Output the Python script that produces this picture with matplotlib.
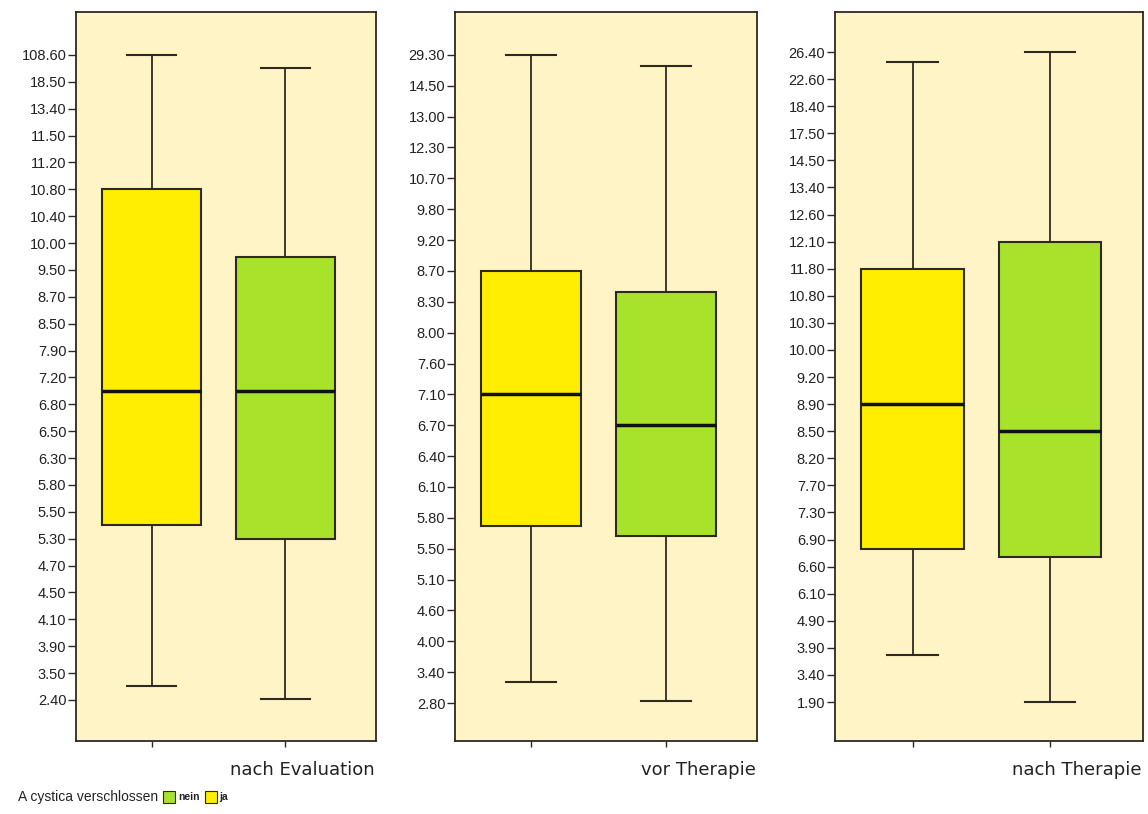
import numpy as np
import matplotlib
matplotlib.use("Agg")
import matplotlib.pyplot as plt
from matplotlib.patches import Rectangle

# ordinal axis labels (bottom to top), one list per panel
ticks_eval = [2.40, 3.50, 3.90, 4.10, 4.50, 4.70, 5.30, 5.50, 5.80, 6.30, 6.50, 6.80, 7.20,
              7.90, 8.50, 8.70, 9.50, 10.00, 10.40, 10.80, 11.20, 11.50, 13.40, 18.50, 108.60]
ticks_vor = [2.80, 3.40, 4.00, 4.60, 5.10, 5.50, 5.80, 6.10, 6.40, 6.70, 7.10, 7.60, 8.00,
             8.30, 8.70, 9.20, 9.80, 10.70, 12.30, 13.00, 14.50, 29.30]
ticks_nach = [1.90, 3.40, 3.90, 4.90, 6.10, 6.60, 6.90, 7.30, 7.70, 8.20, 8.50, 8.90, 9.20,
              10.00, 10.30, 10.80, 11.80, 12.10, 12.60, 13.40, 14.50, 17.50, 18.40, 22.60, 26.40]

# box stats: whisker low, Q1, median, Q3, whisker high
ja_eval = [2.95, 5.40, 7.00, 10.80, 108.60]
nein_eval = [2.45, 5.30, 7.00, 9.75, 63.50]
ja_vor = [3.21, 5.72, 7.10, 8.70, 29.30]
nein_vor = [2.83, 5.62, 6.70, 8.43, 24.05]
ja_nach = [3.77, 6.80, 8.90, 11.80, 25.00]
nein_nach = [1.90, 6.71, 8.50, 12.10, 26.40]

titles = ["nach Evaluation", "vor Therapie", "nach Therapie"]

bg = "#FEF4C6"
yellow = "#FFEE00"
green = "#A8E22A"
edge = "#2E2A20"

panels = [
    (ticks_eval, ja_eval, nein_eval, [76, 376], (-1.53, 25.6)),
    (ticks_vor, ja_vor, nein_vor, [455, 757], (-1.23, 22.39)),
    (ticks_nach, ja_nach, nein_nach, [835, 1143], (-1.44, 25.48)),
]

W, H = 1148, 814
fig = plt.figure(figsize=(W / 100, H / 100), dpi=100)
plt.rcParams["font.family"] = ["Liberation Sans", "DejaVu Sans"]

for i, (ticks, ja, nein, (x0, x1), ylim) in enumerate(panels):
    ax = fig.add_axes([x0 / W, 1 - 741 / H, (x1 - x0) / W, (741 - 12) / H])
    ax.set_facecolor(bg)
    idx = np.arange(len(ticks))

    def to_pos(v):
        return np.interp(v, ticks, idx)

    stats = []
    for s in (ja, nein):
        p = to_pos(s)
        stats.append(dict(whislo=p[0], q1=p[1], med=p[2], q3=p[3], whishi=p[4], fliers=[]))
    bp = ax.bxp(stats, positions=[1, 2], widths=0.745, capwidths=0.37,
                patch_artist=True, showfliers=False,
                boxprops=dict(edgecolor=edge, linewidth=1.5),
                whiskerprops=dict(color=edge, linewidth=1.3),
                capprops=dict(color=edge, linewidth=1.5),
                medianprops=dict(color="#111111", linewidth=2.5))
    for patch, c in zip(bp["boxes"], (yellow, green)):
        patch.set_facecolor(c)

    ax.set_xlim(0.435, 2.677)
    ax.set_ylim(*ylim)
    ax.set_yticks(idx)
    ax.set_yticklabels(["%.2f" % t for t in ticks], fontsize=10.5, color="#222222")
    ax.set_xticks([1, 2])
    ax.set_xticklabels([])
    ax.tick_params(axis="y", length=6, width=1, color=edge, pad=1)
    ax.tick_params(axis="x", length=4, width=1, color=edge)
    for sp in ax.spines.values():
        sp.set_color(edge)
        sp.set_linewidth(1.3)

    fig.text((x1 - 1) / W, 1 - 770 / H, titles[i], ha="right", va="center",
             fontsize=13, family="DejaVu Sans", color="#222222")

# legend line at the bottom
ly = 1 - 797 / H
lab = fig.text(18 / W, ly, "A cystica verschlossen", ha="left", va="center",
               fontsize=10, color="#222222")
renderer = fig.canvas.get_renderer()
x = lab.get_window_extent(renderer).x1 + 5
for name, c in (("nein", green), ("ja", yellow)):
    fig.patches.append(Rectangle((x / W, 1 - 803 / H), 12 / W, 12 / H, transform=fig.transFigure,
                                 facecolor=c, edgecolor=edge, linewidth=0.8))
    t = fig.text((x + 15) / W, ly, name, ha="left", va="center", fontsize=7.5,
                 fontweight="bold", color="#222222")
    x = t.get_window_extent(renderer).x1 + 5

fig.savefig("out.png", dpi=100, facecolor="white")
